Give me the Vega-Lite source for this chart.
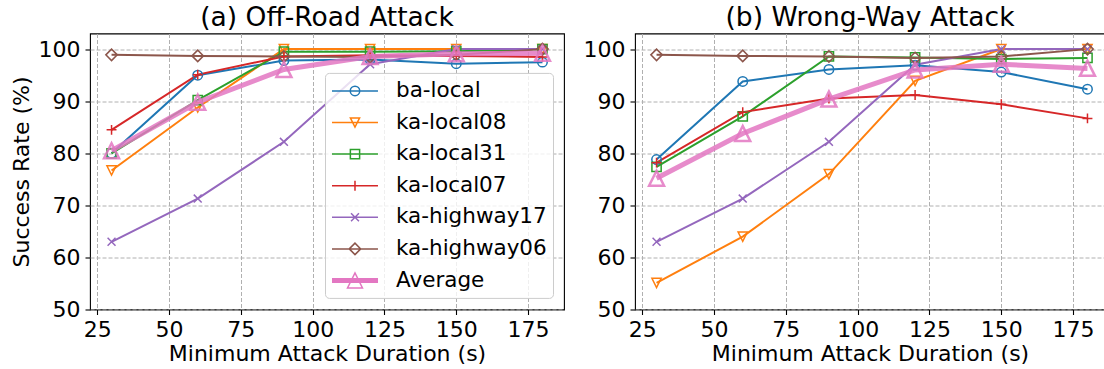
{
  "$schema": "https://vega.github.io/schema/vega-lite/v6.json",
  "padding": {"left": 9, "top": 3.5, "right": 0, "bottom": 0},
  "spacing": 71,
  "bounds": "flush",
  "config": {
    "font": "DejaVu Sans",
    "view": {"stroke": "black", "strokeWidth": 1.1},
    "axis": {"domain": false, "grid": true, "gridColor": "#b0b0b0", "gridDash": [4, 2], "gridWidth": 1, "tickColor": "black", "tickSize": 5, "tickWidth": 1.1, "labelFontSize": 22, "labelColor": "black", "titleFontSize": 22, "titleFontWeight": "normal", "titleColor": "black", "labelFlush": false, "labelOverlap": false},
    "axisY": {"titlePadding": 5, "labelPadding": 5},
    "axisX": {"titlePadding": 3, "labelPadding": 5},
    "title": {"fontSize": 26.5, "fontWeight": "normal", "color": "black", "offset": 2, "baseline": "alphabetic", "anchor": "middle"},
    "legend": {"labelLimit": 0}
  },
  "datasets": {
    "a": [
      {"series": "ba-local", "dur": 30, "rate": 80.0}, {"series": "ba-local", "dur": 60, "rate": 95.0}, {"series": "ba-local", "dur": 90, "rate": 97.8}, {"series": "ba-local", "dur": 120, "rate": 98.0}, {"series": "ba-local", "dur": 150, "rate": 97.2}, {"series": "ba-local", "dur": 180, "rate": 97.5},
      {"series": "ka-local08", "dur": 30, "rate": 76.7}, {"series": "ka-local08", "dur": 60, "rate": 88.8}, {"series": "ka-local08", "dur": 90, "rate": 100}, {"series": "ka-local08", "dur": 120, "rate": 100}, {"series": "ka-local08", "dur": 150, "rate": 100}, {"series": "ka-local08", "dur": 180, "rate": 100},
      {"series": "ka-local31", "dur": 30, "rate": 80.0}, {"series": "ka-local31", "dur": 60, "rate": 90.2}, {"series": "ka-local31", "dur": 90, "rate": 99.5}, {"series": "ka-local31", "dur": 120, "rate": 99.5}, {"series": "ka-local31", "dur": 150, "rate": 99.6}, {"series": "ka-local31", "dur": 180, "rate": 100},
      {"series": "ka-local07", "dur": 30, "rate": 84.5}, {"series": "ka-local07", "dur": 60, "rate": 95.1}, {"series": "ka-local07", "dur": 90, "rate": 98.6}, {"series": "ka-local07", "dur": 120, "rate": 98.8}, {"series": "ka-local07", "dur": 150, "rate": 98.7}, {"series": "ka-local07", "dur": 180, "rate": 98.5},
      {"series": "ka-highway17", "dur": 30, "rate": 63.0}, {"series": "ka-highway17", "dur": 60, "rate": 71.3}, {"series": "ka-highway17", "dur": 90, "rate": 82.2}, {"series": "ka-highway17", "dur": 120, "rate": 97.1}, {"series": "ka-highway17", "dur": 150, "rate": 100}, {"series": "ka-highway17", "dur": 180, "rate": 100},
      {"series": "ka-highway06", "dur": 30, "rate": 98.9}, {"series": "ka-highway06", "dur": 60, "rate": 98.7}, {"series": "ka-highway06", "dur": 90, "rate": 98.6}, {"series": "ka-highway06", "dur": 120, "rate": 98.5}, {"series": "ka-highway06", "dur": 150, "rate": 98.9}, {"series": "ka-highway06", "dur": 180, "rate": 100},
      {"series": "Average", "dur": 30, "rate": 80.5}, {"series": "Average", "dur": 60, "rate": 89.8}, {"series": "Average", "dur": 90, "rate": 96.1}, {"series": "Average", "dur": 120, "rate": 98.6}, {"series": "Average", "dur": 150, "rate": 99.1}, {"series": "Average", "dur": 180, "rate": 99.2}
    ],
    "b": [
      {"series": "ba-local", "dur": 30, "rate": 78.8}, {"series": "ba-local", "dur": 60, "rate": 93.8}, {"series": "ba-local", "dur": 90, "rate": 96.1}, {"series": "ba-local", "dur": 120, "rate": 96.9}, {"series": "ba-local", "dur": 150, "rate": 95.6}, {"series": "ba-local", "dur": 180, "rate": 92.3},
      {"series": "ka-local08", "dur": 30, "rate": 55.1}, {"series": "ka-local08", "dur": 60, "rate": 64.0}, {"series": "ka-local08", "dur": 90, "rate": 76.0}, {"series": "ka-local08", "dur": 120, "rate": 93.9}, {"series": "ka-local08", "dur": 150, "rate": 100}, {"series": "ka-local08", "dur": 180, "rate": 100},
      {"series": "ka-local31", "dur": 30, "rate": 77.4}, {"series": "ka-local31", "dur": 60, "rate": 87.1}, {"series": "ka-local31", "dur": 90, "rate": 98.6}, {"series": "ka-local31", "dur": 120, "rate": 98.4}, {"series": "ka-local31", "dur": 150, "rate": 98.1}, {"series": "ka-local31", "dur": 180, "rate": 98.3},
      {"series": "ka-local07", "dur": 30, "rate": 78.2}, {"series": "ka-local07", "dur": 60, "rate": 87.9}, {"series": "ka-local07", "dur": 90, "rate": 90.5}, {"series": "ka-local07", "dur": 120, "rate": 91.2}, {"series": "ka-local07", "dur": 150, "rate": 89.4}, {"series": "ka-local07", "dur": 180, "rate": 86.7},
      {"series": "ka-highway17", "dur": 30, "rate": 63.0}, {"series": "ka-highway17", "dur": 60, "rate": 71.3}, {"series": "ka-highway17", "dur": 90, "rate": 82.2}, {"series": "ka-highway17", "dur": 120, "rate": 97.0}, {"series": "ka-highway17", "dur": 150, "rate": 100}, {"series": "ka-highway17", "dur": 180, "rate": 100},
      {"series": "ka-highway06", "dur": 30, "rate": 98.9}, {"series": "ka-highway06", "dur": 60, "rate": 98.7}, {"series": "ka-highway06", "dur": 90, "rate": 98.6}, {"series": "ka-highway06", "dur": 120, "rate": 98.3}, {"series": "ka-highway06", "dur": 150, "rate": 98.6}, {"series": "ka-highway06", "dur": 180, "rate": 100},
      {"series": "Average", "dur": 30, "rate": 75.2}, {"series": "Average", "dur": 60, "rate": 83.8}, {"series": "Average", "dur": 90, "rate": 90.4}, {"series": "Average", "dur": 120, "rate": 96.0}, {"series": "Average", "dur": 150, "rate": 97.1}, {"series": "Average", "dur": 180, "rate": 96.3}
    ]
  },
  "hconcat": [
    {
      "width": 474,
      "height": 276,
      "title": {"text": "(a) Off-Road Attack"},
      "data": {"name": "a"},
      "encoding": {
        "x": {"field": "dur", "type": "quantitative", "scale": {"domain": [22.5, 187.5], "nice": false, "zero": false}, "axis": {"values": [25, 50, 75, 100, 125, 150, 175], "title": "Minimum Attack Duration (s)"}},
        "y": {"field": "rate", "type": "quantitative", "scale": {"domain": [50, 103], "nice": false, "zero": false}, "axis": {"values": [50, 60, 70, 80, 90, 100], "title": "Success Rate (%)"}}
      },
      "layer": [
        {
          "transform": [{"filter": "datum.series !== 'Average'"}],
          "mark": {"type": "line", "strokeWidth": 2},
          "encoding": {"color": {"field": "series", "type": "nominal", "scale": {"domain": ["ba-local", "ka-local08", "ka-local31", "ka-local07", "ka-highway17", "ka-highway06"], "range": ["#1f77b4", "#ff7f0e", "#2ca02c", "#d62728", "#9467bd", "#8c564b"]}, "legend": null}}
        },
        {
          "transform": [{"filter": "datum.series !== 'Average'"}],
          "mark": {"type": "point", "filled": false, "size": 484, "strokeWidth": 1.5, "opacity": 1},
          "encoding": {
            "color": {"field": "series", "type": "nominal", "scale": {"domain": ["ba-local", "ka-local08", "ka-local31", "ka-local07", "ka-highway17", "ka-highway06"], "range": ["#1f77b4", "#ff7f0e", "#2ca02c", "#d62728", "#9467bd", "#8c564b"]}, "legend": null},
            "shape": {"field": "series", "type": "nominal", "scale": {"domain": ["ba-local", "ka-local08", "ka-local31", "ka-local07", "ka-highway17", "ka-highway06"], "range": ["M0.43,0C0.43,0.2375 0.2375,0.43 0,0.43C-0.2375,0.43 -0.43,0.2375 -0.43,0C-0.43,-0.2375 -0.2375,-0.43 0,-0.43C0.2375,-0.43 0.43,-0.2375 0.43,0Z", "M-0.42,-0.42L0.42,-0.42L0,0.42Z", "M-0.42,-0.42H0.42V0.42H-0.42Z", "M-0.45,0H0.45M0,-0.45V0.45", "M-0.36,-0.36L0.36,0.36M-0.36,0.36L0.36,-0.36", "M-0.52,0L0,-0.52L0.52,0L0,0.52Z"]}, "legend": null}
          }
        },
        {
          "transform": [{"filter": "datum.series === 'Average'"}],
          "mark": {"type": "line", "strokeWidth": 5, "color": "#e377c2", "opacity": 0.85},
          "encoding": {}
        },
        {
          "transform": [{"filter": "datum.series === 'Average'"}],
          "mark": {"type": "point", "filled": false, "size": 484, "strokeWidth": 2.5, "color": "#e377c2", "opacity": 0.85, "shape": "M-0.68,0.68L0.68,0.68L0,-0.68Z"},
          "encoding": {}
        },
        {
          "mark": {"type": "point", "filled": false, "size": 484, "opacity": 0},
          "encoding": {
            "stroke": {"field": "series", "type": "nominal", "scale": {"domain": ["ba-local", "ka-local08", "ka-local31", "ka-local07", "ka-highway17", "ka-highway06", "Average"], "range": ["#1f77b4", "#ff7f0e", "#2ca02c", "#d62728", "#9467bd", "#8c564b", "#e377c2"]},
              "legend": {"title": null, "orient": "none", "legendX": 235, "legendY": 39.4, "padding": 6, "labelFontSize": 21.5, "labelColor": "black", "labelOffset": 41, "symbolSize": 484, "symbolStrokeWidth": 1.5, "rowPadding": 8.6, "fillColor": "rgba(255,255,255,0.8)", "strokeColor": "#cccccc", "cornerRadius": 4, "symbolOpacity": 1}},
            "shape": {"field": "series", "type": "nominal", "scale": {"domain": ["ba-local", "ka-local08", "ka-local31", "ka-local07", "ka-highway17", "ka-highway06", "Average"], "range": [
              "M-1,0H3.18M1.52,0C1.52,0.2375 1.3275,0.43 1.09,0.43C0.8525,0.43 0.66,0.2375 0.66,0C0.66,-0.2375 0.8525,-0.43 1.09,-0.43C1.3275,-0.43 1.52,-0.2375 1.52,0Z",
              "M-1,0H3.18M0.67,-0.42L1.51,-0.42L1.09,0.42Z",
              "M-1,0H3.18M0.67,-0.42H1.51V0.42H0.67Z",
              "M-1,0H3.18M1.09,-0.45V0.45",
              "M-1,0H3.18M0.73,-0.36L1.45,0.36M0.73,0.36L1.45,-0.36",
              "M-1,0H3.18M0.57,0L1.09,-0.52L1.61,0L1.09,0.52Z",
              "M-1,-0.16H3.18M-1,-0.08H3.18M-1,0H3.18M-1,0.08H3.18M-1,0.16H3.18M0.41,0.68L1.77,0.68L1.09,-0.68Z"]},
              "legend": {"title": null, "orient": "none", "legendX": 235, "legendY": 39.4, "padding": 6, "labelFontSize": 21.5, "labelColor": "black", "labelOffset": 41, "symbolSize": 484, "symbolStrokeWidth": 1.5, "rowPadding": 8.6, "fillColor": "rgba(255,255,255,0.8)", "strokeColor": "#cccccc", "cornerRadius": 4, "symbolOpacity": 1}}
          }
        }
      ],
      "resolve": {"scale": {"shape": "independent", "stroke": "independent"}}
    },
    {
      "width": 470,
      "height": 276,
      "title": {"text": "(b) Wrong-Way Attack"},
      "data": {"name": "b"},
      "encoding": {
        "x": {"field": "dur", "type": "quantitative", "scale": {"domain": [22.5, 186.1], "nice": false, "zero": false}, "axis": {"values": [25, 50, 75, 100, 125, 150, 175], "title": "Minimum Attack Duration (s)"}},
        "y": {"field": "rate", "type": "quantitative", "scale": {"domain": [50, 103], "nice": false, "zero": false}, "axis": {"values": [50, 60, 70, 80, 90, 100], "title": null}}
      },
      "layer": [
        {
          "transform": [{"filter": "datum.series !== 'Average'"}],
          "mark": {"type": "line", "strokeWidth": 2},
          "encoding": {"color": {"field": "series", "type": "nominal", "scale": {"domain": ["ba-local", "ka-local08", "ka-local31", "ka-local07", "ka-highway17", "ka-highway06"], "range": ["#1f77b4", "#ff7f0e", "#2ca02c", "#d62728", "#9467bd", "#8c564b"]}, "legend": null}}
        },
        {
          "transform": [{"filter": "datum.series !== 'Average'"}],
          "mark": {"type": "point", "filled": false, "size": 484, "strokeWidth": 1.5, "opacity": 1},
          "encoding": {
            "color": {"field": "series", "type": "nominal", "scale": {"domain": ["ba-local", "ka-local08", "ka-local31", "ka-local07", "ka-highway17", "ka-highway06"], "range": ["#1f77b4", "#ff7f0e", "#2ca02c", "#d62728", "#9467bd", "#8c564b"]}, "legend": null},
            "shape": {"field": "series", "type": "nominal", "scale": {"domain": ["ba-local", "ka-local08", "ka-local31", "ka-local07", "ka-highway17", "ka-highway06"], "range": ["M0.43,0C0.43,0.2375 0.2375,0.43 0,0.43C-0.2375,0.43 -0.43,0.2375 -0.43,0C-0.43,-0.2375 -0.2375,-0.43 0,-0.43C0.2375,-0.43 0.43,-0.2375 0.43,0Z", "M-0.42,-0.42L0.42,-0.42L0,0.42Z", "M-0.42,-0.42H0.42V0.42H-0.42Z", "M-0.45,0H0.45M0,-0.45V0.45", "M-0.36,-0.36L0.36,0.36M-0.36,0.36L0.36,-0.36", "M-0.52,0L0,-0.52L0.52,0L0,0.52Z"]}, "legend": null}
          }
        },
        {
          "transform": [{"filter": "datum.series === 'Average'"}],
          "mark": {"type": "line", "strokeWidth": 5, "color": "#e377c2", "opacity": 0.85},
          "encoding": {}
        },
        {
          "transform": [{"filter": "datum.series === 'Average'"}],
          "mark": {"type": "point", "filled": false, "size": 484, "strokeWidth": 2.5, "color": "#e377c2", "opacity": 0.85, "shape": "M-0.68,0.68L0.68,0.68L0,-0.68Z"},
          "encoding": {}
        }
      ]
    }
  ]
}
